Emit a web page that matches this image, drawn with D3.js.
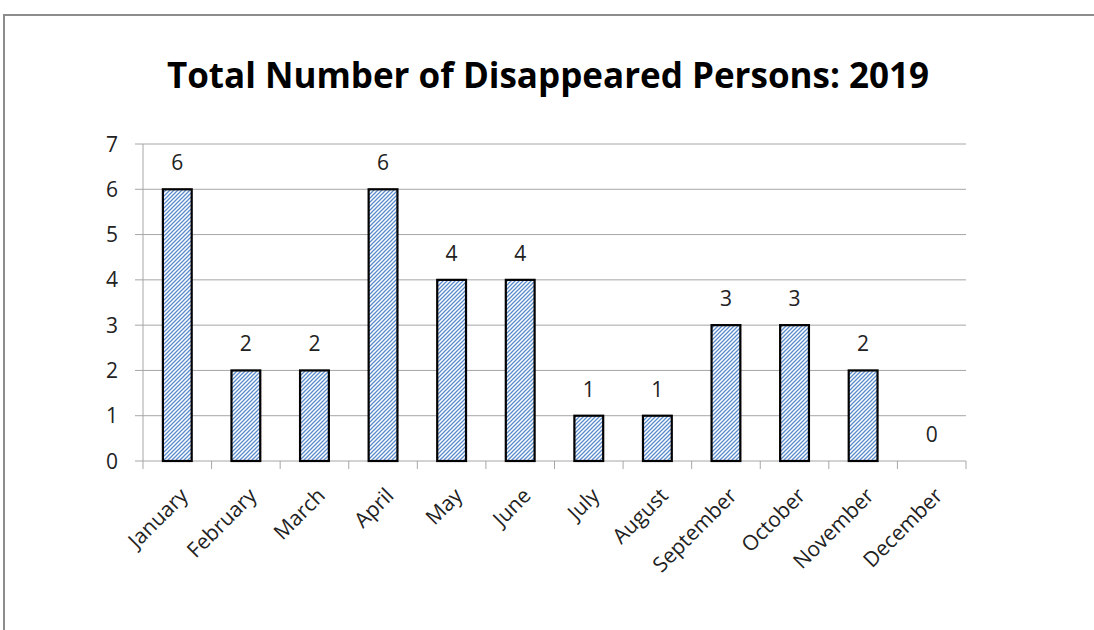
<!DOCTYPE html>
<html>
<head>
<meta charset="utf-8">
<script src="https://cdn.jsdelivr.net/npm/d3@7"></script>
<style>
  body { margin: 0; background: #fff; }
  svg { display: block; font-family: "Open Sans", sans-serif; }
</style>
</head>
<body>
<svg width="1094" height="630"></svg>
<script>
// data
var months = ["January","February","March","April","May","June","July","August","September","October","November","December"];
var counts = [6, 2, 2, 6, 4, 4, 1, 1, 3, 3, 2, 0];
var yTicks = [0, 1, 2, 3, 4, 5, 6, 7];
var title = "Total Number of Disappeared Persons: 2019";

var svg = d3.select("svg");
var plotLeft = 143, plotRight = 966, plotTop = 144, plotBottom = 461;

// chart frame
svg.append("path")
  .attr("d", "M4,630 L4,15 L1094,15")
  .attr("fill", "none")
  .attr("stroke", "#8c8c8c")
  .attr("stroke-width", 2);

// stripe pattern (wide upward diagonal)
var pat = svg.append("defs").append("pattern")
  .attr("id", "stripes")
  .attr("patternUnits", "userSpaceOnUse")
  .attr("width", 4).attr("height", 4);
pat.append("rect").attr("width", 4).attr("height", 4).attr("fill", "#fff");
pat.append("path")
  .attr("d", "M-1,1 l2,-2 M0,4 l4,-4 M3,5 l2,-2")
  .attr("stroke", "#5a8ccc")
  .attr("stroke-width", 1.3);

var x = d3.scaleBand().domain(months).range([plotLeft, plotRight]).padding(0);
var y = d3.scaleLinear().domain([0, 7]).range([plotBottom, plotTop]);

// gridlines
svg.append("g").selectAll("line")
  .data(yTicks)
  .enter().append("line")
  .attr("x1", plotLeft - 8).attr("x2", plotRight)
  .attr("y1", function(d) { return y(d); })
  .attr("y2", function(d) { return y(d); })
  .attr("stroke", "#a6a6a6")
  .attr("stroke-width", 1);

// y axis line
svg.append("line")
  .attr("x1", plotLeft).attr("x2", plotLeft)
  .attr("y1", plotTop).attr("y2", plotBottom)
  .attr("stroke", "#a6a6a6");

// y tick labels
svg.append("g").selectAll("text")
  .data(yTicks)
  .enter().append("text")
  .attr("x", plotLeft - 25)
  .attr("y", function(d) { return y(d); })
  .attr("dy", "0.36em")
  .attr("text-anchor", "end")
  .attr("font-size", 21)
  .attr("fill", "#222")
  .text(function(d) { return d; });

// x axis ticks at category boundaries
var bounds = months.map(function(m) { return x(m); }).concat([plotRight]);
svg.append("g").selectAll("line")
  .data(bounds)
  .enter().append("line")
  .attr("x1", function(d) { return d; })
  .attr("x2", function(d) { return d; })
  .attr("y1", plotBottom).attr("y2", plotBottom + 8)
  .attr("stroke", "#a6a6a6");

// bars
var bw = x.bandwidth() * 0.42;
svg.append("g").selectAll("rect")
  .data(counts)
  .enter().append("rect")
  .attr("x", function(d, i) { return x(months[i]) + (x.bandwidth() - bw) / 2; })
  .attr("y", function(d) { return y(d); })
  .attr("width", bw)
  .attr("height", function(d) { return plotBottom - y(d); })
  .attr("fill", "url(#stripes)")
  .attr("stroke", function(d) { return d > 0 ? "#000" : "none"; })
  .attr("stroke-width", 2.2);

// value labels
svg.append("g").selectAll("text")
  .data(counts)
  .enter().append("text")
  .attr("x", function(d, i) { return x(months[i]) + x.bandwidth() / 2; })
  .attr("y", function(d) { return y(d) - 19; })
  .attr("text-anchor", "middle")
  .attr("font-size", 21)
  .attr("fill", "#222")
  .text(function(d) { return d; });

// month labels
svg.append("g").selectAll("text")
  .data(months)
  .enter().append("text")
  .attr("transform", function(d) {
    return "translate(" + (x(d) + x.bandwidth() / 2 + 12) + "," + (plotBottom + 36) + ") rotate(-45)";
  })
  .attr("text-anchor", "end")
  .attr("font-size", 21)
  .attr("fill", "#222")
  .text(function(d) { return d; });

// title
svg.append("text")
  .attr("x", 548)
  .attr("y", 88)
  .attr("text-anchor", "middle")
  .attr("font-size", 35)
  .attr("font-weight", "bold")
  .attr("fill", "#000")
  .text(title);
</script>
</body>
</html>
